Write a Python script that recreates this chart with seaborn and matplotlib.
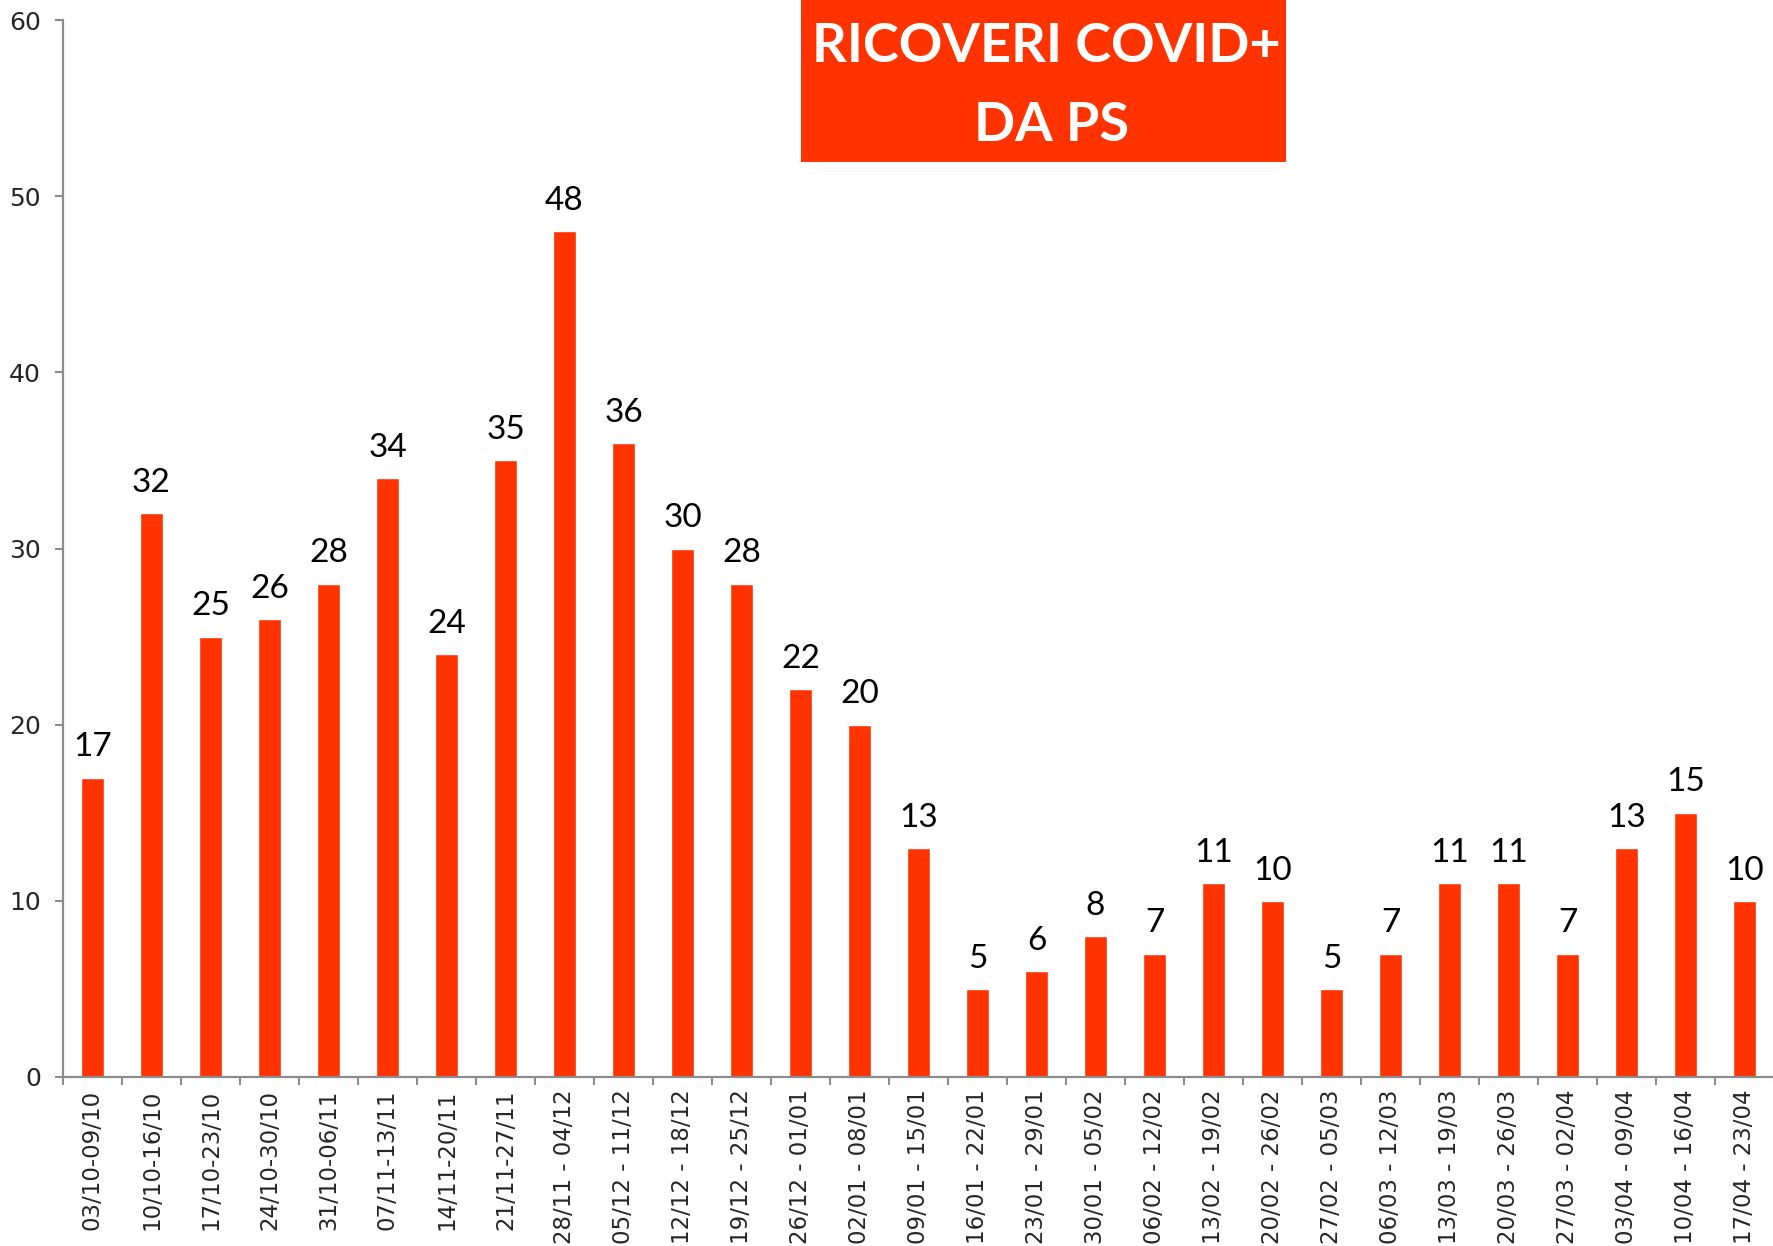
import matplotlib
matplotlib.use("Agg")
import matplotlib.pyplot as plt
from matplotlib.patches import Rectangle
import seaborn as sns
import pandas as pd

periods = ["03/10-09/10", "10/10-16/10", "17/10-23/10", "24/10-30/10", "31/10-06/11",
           "07/11-13/11", "14/11-20/11", "21/11-27/11", "28/11 - 04/12", "05/12 - 11/12",
           "12/12 - 18/12", "19/12 - 25/12", "26/12 - 01/01", "02/01 - 08/01", "09/01 - 15/01",
           "16/01 - 22/01", "23/01 - 29/01", "30/01 - 05/02", "06/02 - 12/02", "13/02 - 19/02",
           "20/02 - 26/02", "27/02 - 05/03", "06/03 - 12/03", "13/03 - 19/03", "20/03 - 26/03",
           "27/03 - 02/04", "03/04 - 09/04", "10/04 - 16/04", "17/04 - 23/04"]
ricoveri = [17, 32, 25, 26, 28, 34, 24, 35, 48, 36, 30, 28, 22, 20, 13,
            5, 6, 8, 7, 11, 10, 5, 7, 11, 11, 7, 13, 15, 10]
y_ticks = [0, 10, 20, 30, 40, 50, 60]
title_lines = ["RICOVERI COVID+", "DA PS"]

df = pd.DataFrame({"periodo": periods, "ricoveri": ricoveri})

W, H = 1774, 1246
sns.set_style("white")
plt.rcParams["font.family"] = ["DejaVu Sans"]
fig = plt.figure(figsize=(W / 100, H / 100), dpi=100)

ax = fig.add_axes([63 / W, 1 - 1077 / H, (W - 63) / W, (1077 - 20) / H])
sns.barplot(data=df, x="periodo", y="ricoveri", color="#FF3300", saturation=1,
            width=0.4, ax=ax)

ax.bar_label(ax.containers[0], padding=11, fontsize=24, family="Lato", color="black")

ax.set_xlim(-0.5, len(periods) - 0.5)
ax.set_ylim(0, 60)
ax.set_yticks(y_ticks, labels=[str(v) for v in y_ticks], fontsize=18)
ax.set_xlabel("")
ax.set_ylabel("")

grey = "#8c8c8c"
for side in ["top", "right"]:
    ax.spines[side].set_visible(False)
for side in ["left", "bottom"]:
    ax.spines[side].set_color(grey)
    ax.spines[side].set_linewidth(1.6)

ax.tick_params(axis="y", which="major", direction="out", length=6, width=1.5,
               color=grey, pad=10, left=True)
ax.set_xticks(range(len(periods)))
ax.set_xticklabels(periods, rotation=90)
ax.tick_params(axis="x", which="major", length=0, labelsize=16.5, pad=9)
ax.set_xticks([i - 0.5 for i in range(len(periods) + 1)], minor=True)
ax.tick_params(axis="x", which="minor", direction="out", length=6, width=1.5,
               color=grey, bottom=True)

# riquadro del titolo
fig.add_artist(Rectangle((801 / W, 1 - 162 / H), (1286 - 801) / W, 162 / H,
                         transform=fig.transFigure, facecolor="#FF3300",
                         edgecolor="none", zorder=5))
fig.text(1046 / W, 1 - 62 / H, title_lines[0], ha="center", va="baseline",
         fontsize=39, fontweight="bold", family="Lato", color="white", zorder=6)
fig.text(1052 / W, 1 - 141 / H, title_lines[1], ha="center", va="baseline",
         fontsize=39, fontweight="bold", family="Lato", color="white", zorder=6)

fig.savefig("out.png", dpi=100)
